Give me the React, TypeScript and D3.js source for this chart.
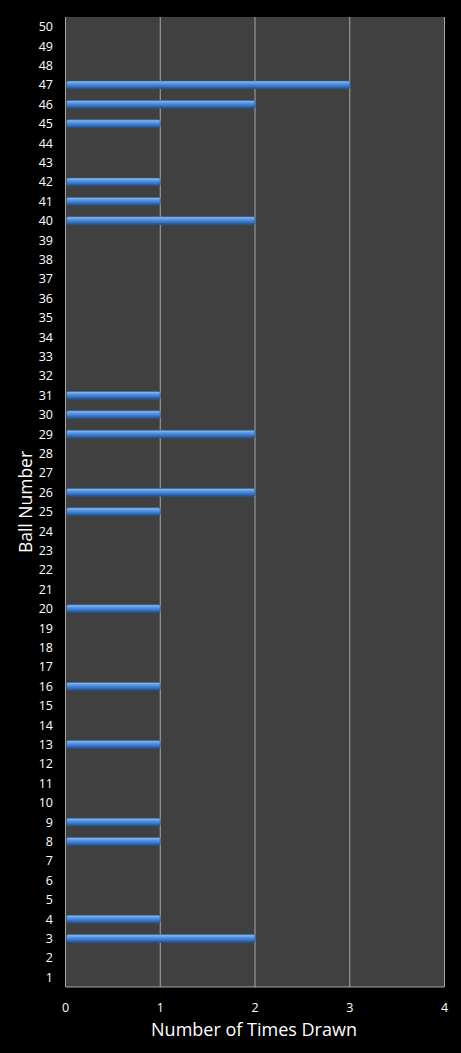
import React, { useEffect, useRef } from 'react';
import * as d3 from 'd3';

// ball numbers 1..50 and how often each was drawn
const balls = d3.range(1, 51);
const drawnBalls = [3, 4, 8, 9, 13, 16, 20, 25, 26, 29, 30, 31, 40, 41, 42, 45, 46, 47];
const drawnCounts = [2, 1, 1, 1, 1, 1, 1, 1, 2, 2, 1, 1, 2, 1, 1, 1, 2, 3];
const xTicks = [0, 1, 2, 3, 4];

const App = () => {
  const svgRef = useRef(null);

  useEffect(() => {
    document.body.style.margin = '0';
    document.body.style.background = '#000';

    const width = 461;
    const height = 1053;
    const margin = { top: 17, right: 16.5, bottom: 66, left: 65.5 };
    const font = '"Open Sans", "DejaVu Sans", sans-serif';

    const svg = d3.select(svgRef.current);
    svg.selectAll('*').remove();
    svg.attr('width', width).attr('height', height);

    const defs = svg.append('defs');
    const grad = defs
      .append('linearGradient')
      .attr('id', 'barGrad')
      .attr('x1', 0)
      .attr('y1', 0)
      .attr('x2', 0)
      .attr('y2', 1);
    grad.append('stop').attr('offset', '0%').attr('stop-color', '#9cc6f5');
    grad.append('stop').attr('offset', '30%').attr('stop-color', '#5b9be6');
    grad.append('stop').attr('offset', '65%').attr('stop-color', '#3b78c8');
    grad.append('stop').attr('offset', '100%').attr('stop-color', '#1f4f8e');

    svg.append('rect').attr('width', width).attr('height', height).attr('fill', '#000');

    const x = d3
      .scaleLinear()
      .domain([0, 4])
      .range([margin.left, width - margin.right]);

    const y = d3
      .scaleBand()
      .domain(balls.map(String).reverse())
      .range([margin.top, height - margin.bottom])
      .paddingInner(0.6)
      .paddingOuter(0.3);

    const plotBottom = height - margin.bottom;

    // plot area
    svg
      .append('rect')
      .attr('x', x(0))
      .attr('y', margin.top)
      .attr('width', x(4) - x(0))
      .attr('height', plotBottom - margin.top)
      .attr('fill', '#404040');

    // gridlines
    svg
      .append('g')
      .selectAll('line')
      .data(xTicks)
      .enter()
      .append('line')
      .attr('x1', (d) => x(d))
      .attr('x2', (d) => x(d))
      .attr('y1', margin.top)
      .attr('y2', plotBottom)
      .attr('stroke', '#a6a6a6')
      .attr('stroke-width', 1);

    svg
      .append('line')
      .attr('x1', x(0))
      .attr('x2', x(4))
      .attr('y1', plotBottom)
      .attr('y2', plotBottom)
      .attr('stroke', '#a6a6a6');

    // bars
    const data = drawnBalls.map((b, i) => ({ ball: String(b), count: drawnCounts[i] }));
    svg
      .append('g')
      .selectAll('rect')
      .data(data)
      .enter()
      .append('rect')
      .attr('x', x(0) + 1)
      .attr('y', (d) => y(d.ball))
      .attr('width', (d) => x(d.count) - x(0) - 1)
      .attr('height', y.bandwidth())
      .attr('rx', 1.5)
      .attr('fill', 'url(#barGrad)')
      .attr('stroke', '#2a5a9a')
      .attr('stroke-width', 0.6);

    // y tick labels
    svg
      .append('g')
      .selectAll('text')
      .data(balls)
      .enter()
      .append('text')
      .attr('x', 53)
      .attr('y', (d) => y(String(d)) + y.bandwidth() / 2)
      .attr('dy', '0.36em')
      .attr('text-anchor', 'end')
      .attr('fill', '#fff')
      .style('font-family', font)
      .style('font-size', '12.5px')
      .text((d) => d);

    // x tick labels
    svg
      .append('g')
      .selectAll('text')
      .data(xTicks)
      .enter()
      .append('text')
      .attr('x', (d) => x(d))
      .attr('y', 1012)
      .attr('text-anchor', 'middle')
      .attr('fill', '#fff')
      .style('font-family', font)
      .style('font-size', '12.5px')
      .text((d) => d);

    svg
      .append('text')
      .attr('x', 254)
      .attr('y', 1036)
      .attr('text-anchor', 'middle')
      .attr('fill', '#fff')
      .style('font-family', font)
      .style('font-size', '18px')
      .text('Number of Times Drawn');

    svg
      .append('text')
      .attr('transform', `translate(32,${(margin.top + plotBottom) / 2}) rotate(-90)`)
      .attr('text-anchor', 'middle')
      .attr('fill', '#fff')
      .style('font-family', font)
      .style('font-size', '17.5px')
      .text('Ball Number');
  }, []);

  return <svg ref={svgRef} style={{ display: 'block' }}></svg>;
};

export default App;
